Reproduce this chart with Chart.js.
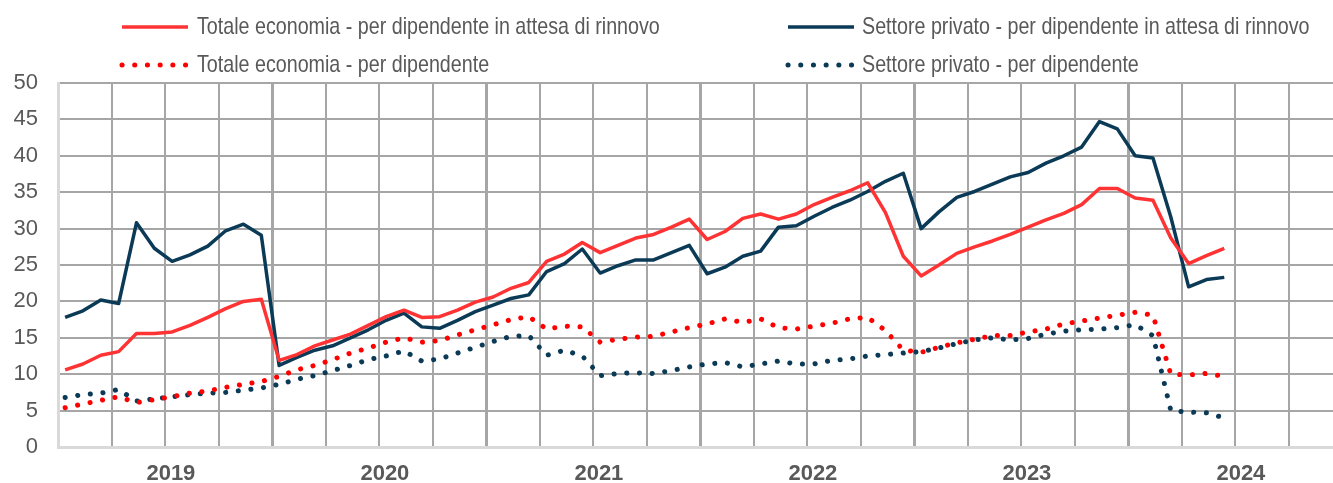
<!DOCTYPE html>
<html lang="it">
<head>
<meta charset="utf-8">
<title>Mesi di attesa del rinnovo contrattuale</title>
<script src="https://cdn.jsdelivr.net/npm/chart.js@4.4.1/dist/chart.umd.min.js"></script>
<style>
  html, body { margin: 0; padding: 0; background: #fff; overflow: hidden; }
  #wrap { width: 1344px; height: 483px; }
</style>
</head>
<body>
<div id="wrap"><canvas id="grafico" width="1344" height="483"></canvas></div>
<script>
const anni = ["2019", "2020", "2021", "2022", "2023", "2024"];

// mesi di attesa, dati mensili da gen 2019 a giu 2024
const totaleAttesa = [
  10.6, 11.4, 12.6, 13.1, 15.6, 15.6, 15.8, 16.7, 17.8, 19.0, 20.0, 20.3,
  11.9, 12.7, 13.9, 14.7, 15.5, 16.7, 17.9, 18.8, 17.8, 17.9, 18.8, 19.9,
  20.6, 21.8, 22.6, 25.5, 26.5, 28.1, 26.7, 27.7, 28.7, 29.2, 30.2, 31.3,
  28.5, 29.6, 31.4, 32.0, 31.3, 32.0, 33.3, 34.3, 35.2, 36.3, 32.2, 26.2,
  23.5, 25.0, 26.6, 27.5, 28.3, 29.2, 30.2, 31.2, 32.1, 33.3, 35.5, 35.5,
  34.2, 33.9, 28.7, 25.2, 26.3, 27.3
];
const privatoAttesa = [
  17.8, 18.7, 20.2, 19.7, 30.8, 27.3, 25.5, 26.4, 27.6, 29.7, 30.6, 29.1,
  11.2, 12.3, 13.3, 13.9, 15.0, 16.1, 17.4, 18.4, 16.5, 16.3, 17.4, 18.6,
  19.5, 20.4, 20.9, 24.1, 25.2, 27.2, 23.9, 24.9, 25.7, 25.7, 26.7, 27.7,
  23.8, 24.7, 26.2, 26.9, 30.2, 30.4, 31.7, 32.9, 33.9, 35.1, 36.5, 37.6,
  30.0, 32.3, 34.3, 35.1, 36.1, 37.1, 37.7, 39.0, 40.0, 41.2, 44.7, 43.7,
  40.0, 39.7, 31.6, 22.0, 23.0, 23.3
];
const totaleDipendente = [
  5.4, 5.9, 6.4, 6.9, 6.1, 6.5, 6.9, 7.4, 7.7, 8.2, 8.6, 9.0,
  9.7, 10.6, 11.2, 12.0, 12.9, 13.6, 14.4, 15.0, 14.4, 14.6, 15.4, 16.1,
  16.8, 17.5, 17.9, 16.2, 16.6, 16.5, 14.4, 14.8, 15.1, 15.2, 15.8, 16.4,
  16.9, 17.6, 17.1, 17.6, 16.4, 16.2, 16.6, 17.0, 17.6, 17.8, 16.0, 13.3,
  13.0, 13.7, 14.3, 14.8, 15.3, 15.3, 15.8, 16.2, 16.9, 17.3, 17.7, 18.1,
  18.5, 18.1, 10.0, 9.9, 10.1, 9.7
];
const privatoDipendente = [
  6.8, 7.2, 7.4, 7.9, 6.3, 6.6, 6.9, 7.2, 7.4, 7.5, 7.8, 8.1,
  8.6, 9.3, 9.8, 10.5, 11.2, 12.0, 12.5, 13.2, 11.8, 12.1, 12.9, 13.7,
  14.5, 15.2, 15.3, 12.6, 13.3, 12.5, 9.8, 10.1, 10.2, 10.1, 10.5, 11.0,
  11.4, 11.6, 11.0, 11.4, 11.8, 11.4, 11.4, 11.9, 12.1, 12.5, 12.7, 12.9,
  13.1, 13.6, 14.2, 14.7, 15.0, 14.7, 14.9, 15.5, 15.9, 16.1, 16.2, 16.4,
  16.8, 15.3, 5.0, 4.8, 4.7, 4.0
];

const ROSSO = "#ff3333";
const ROSSO_PUNTI = "#ff0000";
const BLU = "#0b3a57";
const GRIGIO = "#a6a6a6";
const TESTO = "#595959";
const FONT = '"Liberation Sans", Arimo, Arial, sans-serif';

// inizio del 2019 sull'asse (in mesi): i punti stanno un po' a sinistra del centro del mese
const inizio = -0.4;
const fine = inizio + anni.length * 12;
const puntini = [0.1, 12.6];

const punti = (serie) => serie.map((v, i) => ({ x: i, y: v }));

Chart.defaults.font.family = FONT;
Chart.defaults.color = TESTO;

// legenda su due colonne, come nell'originale (testo stretto tipo Arial Narrow)
const legenda = {
  id: "legenda",
  afterDraw(chart) {
    const ctx = chart.ctx;
    const posti = [
      { x: 120, t: 197, y: 27 }, { x: 786, t: 862, y: 27 },
      { x: 120, t: 197, y: 65 }, { x: 786, t: 862, y: 65 }
    ];
    chart.data.datasets.forEach((ds, i) => {
      const p = posti[i];
      ctx.save();
      ctx.strokeStyle = ds.borderColor;
      ctx.lineWidth = ds.borderWidth;
      ctx.lineCap = ds.borderCapStyle || "butt";
      ctx.setLineDash(ds.borderDash || []);
      ctx.beginPath();
      ctx.moveTo(p.x + 2, p.y);
      ctx.lineTo(p.x + 68, p.y);
      ctx.stroke();
      ctx.restore();

      ctx.save();
      ctx.fillStyle = TESTO;
      ctx.font = "24px " + FONT;
      ctx.textBaseline = "middle";
      ctx.translate(p.t, p.y);
      ctx.scale(0.82, 1);
      ctx.fillText(ds.label, 0, 0);
      ctx.restore();
    });
  }
};

new Chart(document.getElementById("grafico"), {
  type: "line",
  data: {
    datasets: [
      {
        label: "Totale economia - per dipendente in attesa di rinnovo",
        data: punti(totaleAttesa),
        borderColor: ROSSO,
        borderWidth: 3.5
      },
      {
        label: "Settore privato - per dipendente in attesa di rinnovo",
        data: punti(privatoAttesa),
        borderColor: BLU,
        borderWidth: 3.5
      },
      {
        label: "Totale economia - per dipendente",
        data: punti(totaleDipendente),
        borderColor: ROSSO_PUNTI,
        borderWidth: 5,
        borderDash: puntini,
        borderCapStyle: "round"
      },
      {
        label: "Settore privato - per dipendente",
        data: punti(privatoDipendente),
        borderColor: BLU,
        borderWidth: 5,
        borderDash: puntini,
        borderCapStyle: "round"
      }
    ]
  },
  options: {
    responsive: false,
    animation: false,
    devicePixelRatio: 1,
    layout: { padding: { top: 83, right: 2, left: 0, bottom: 0 } },
    elements: {
      point: { radius: 0 },
      line: { tension: 0, borderJoinStyle: "round", fill: false }
    },
    plugins: {
      legend: { display: false },
      tooltip: { enabled: false }
    },
    scales: {
      x: {
        type: "linear",
        min: inizio,
        max: fine,
        afterBuildTicks: (s) => {
          const t = [];
          for (let q = 0; q <= anni.length * 4; q++) t.push({ value: inizio + q * 3 });
          s.ticks = t;
        },
        ticks: { display: false },
        grid: {
          color: GRIGIO,
          lineWidth: (c) => (c.index % 4 === 0 ? 3 : 2),
          drawTicks: false
        },
        border: { color: "#d9d9d9", width: 3 },
        afterFit: (s) => { s.height = 0; }
      },
      anniAsse: {
        type: "linear",
        position: "bottom",
        min: inizio,
        max: fine,
        afterBuildTicks: (s) => {
          s.ticks = anni.map((a, k) => ({ value: inizio + 6.33 + k * 12 }));
        },
        ticks: {
          callback: (v, i) => anni[i],
          autoSkip: false,
          maxRotation: 0,
          padding: 14,
          color: TESTO,
          font: { size: 22, weight: "bold" }
        },
        grid: { display: false, drawTicks: false },
        border: { display: false },
        afterFit: (s) => { s.height = 36; }
      },
      y: {
        min: 0,
        max: 50,
        ticks: {
          stepSize: 5,
          padding: 20,
          color: TESTO,
          font: { size: 22 }
        },
        grid: { color: GRIGIO, lineWidth: 2, drawTicks: false },
        border: { color: "#d9d9d9", width: 3 },
        afterFit: (s) => { s.width = 58; }
      }
    }
  },
  plugins: [legenda]
});
</script>
</body>
</html>
